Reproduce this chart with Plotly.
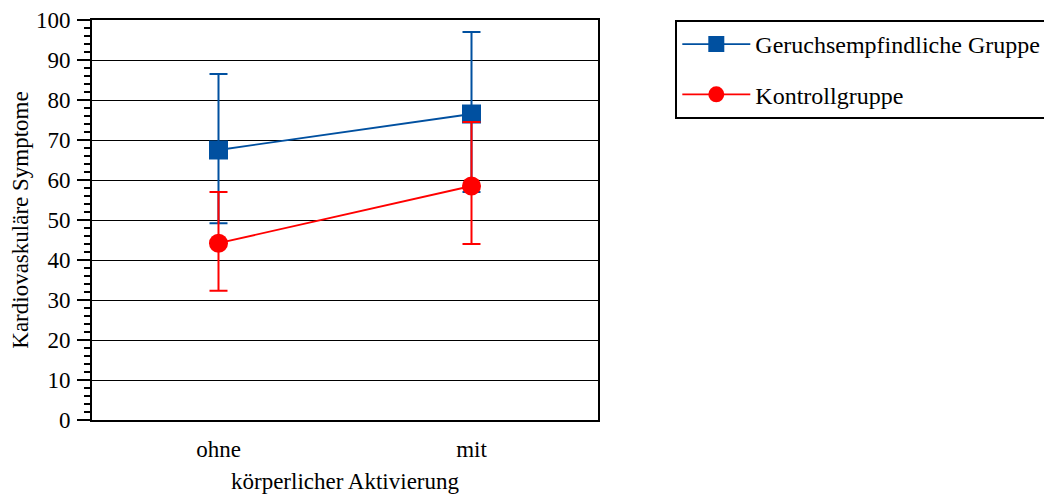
import plotly.graph_objects as go

categories = ["ohne", "mit"]
series_names = ["Geruchsempfindliche Gruppe", "Kontrollgruppe"]
geruch_mean = [67.5, 76.5]
geruch_upper = [86.5, 97.0]
geruch_lower = [49.2, 57.0]
kontroll_mean = [44.2, 58.5]
kontroll_upper = [57.0, 74.5]
kontroll_lower = [32.3, 44.0]
y_ticks = [0, 10, 20, 30, 40, 50, 60, 70, 80, 90, 100]

BLUE = "#0050a0"
RED = "#ff0000"
FONT = "Liberation Serif"

fig = go.Figure()

def add_series(name, mean, upper, lower, color, symbol, group):
    fig.add_trace(go.Scatter(
        x=categories, y=mean, name=name, mode="lines+markers",
        legendgroup=group,
        line=dict(color=color, width=1.8),
        marker=dict(color=color, symbol=symbol, size=19, line=dict(width=0)),
        error_y=dict(type="data", symmetric=False,
                     array=[u - m for u, m in zip(upper, mean)],
                     arrayminus=[m - l for m, l in zip(mean, lower)],
                     color=color, thickness=2, width=9),
    ))

add_series(series_names[0], geruch_mean, geruch_upper, geruch_lower, BLUE, "square", "g1")
add_series(series_names[1], kontroll_mean, kontroll_upper, kontroll_lower, RED, "circle", "g2")

# page body has an 8px default margin: compensate in the figure margins
fig.update_layout(
    width=1044, height=486,
    margin=dict(l=84, r=454, t=12, b=74, autoexpand=False),
    paper_bgcolor="white", plot_bgcolor="white",
    font=dict(family=FONT, size=23, color="black"),
    showlegend=True,
    legend=dict(
        x=(673 - 92) / 504, y=(418 - 20) / 398, xanchor="left", yanchor="top",
        bordercolor="black", borderwidth=2, bgcolor="white",
        font=dict(family=FONT, size=24, color="black"),
        traceorder="grouped", tracegroupgap=16,
        itemwidth=68,
    ),
    xaxis=dict(
        type="category", range=[-0.5, 1.5], automargin=False,
        showgrid=False, zeroline=False,
        showline=True, linecolor="black", linewidth=2, mirror=True,
        ticks="", ticklabelstandoff=7,
        title=dict(text="körperlicher Aktivierung", font=dict(family=FONT, size=23), standoff=15),
    ),
    yaxis=dict(
        range=[0, 100], tickvals=y_ticks, automargin=False,
        ticklabeloverflow="allow",
        showgrid=True, gridcolor="black", gridwidth=1,
        zeroline=False,
        showline=True, linecolor="black", linewidth=2, mirror=True,
        ticks="outside", ticklen=13, tickwidth=1.5, tickcolor="black",
        ticklabelstandoff=2,
        minor=dict(dtick=2, ticks="outside", ticklen=6, tickwidth=1.5, tickcolor="black", showgrid=False),
        title=dict(text="Kardiovaskuläre Symptome", font=dict(family=FONT, size=23), standoff=4),
    ),
)

fig.write_html("out.html")
